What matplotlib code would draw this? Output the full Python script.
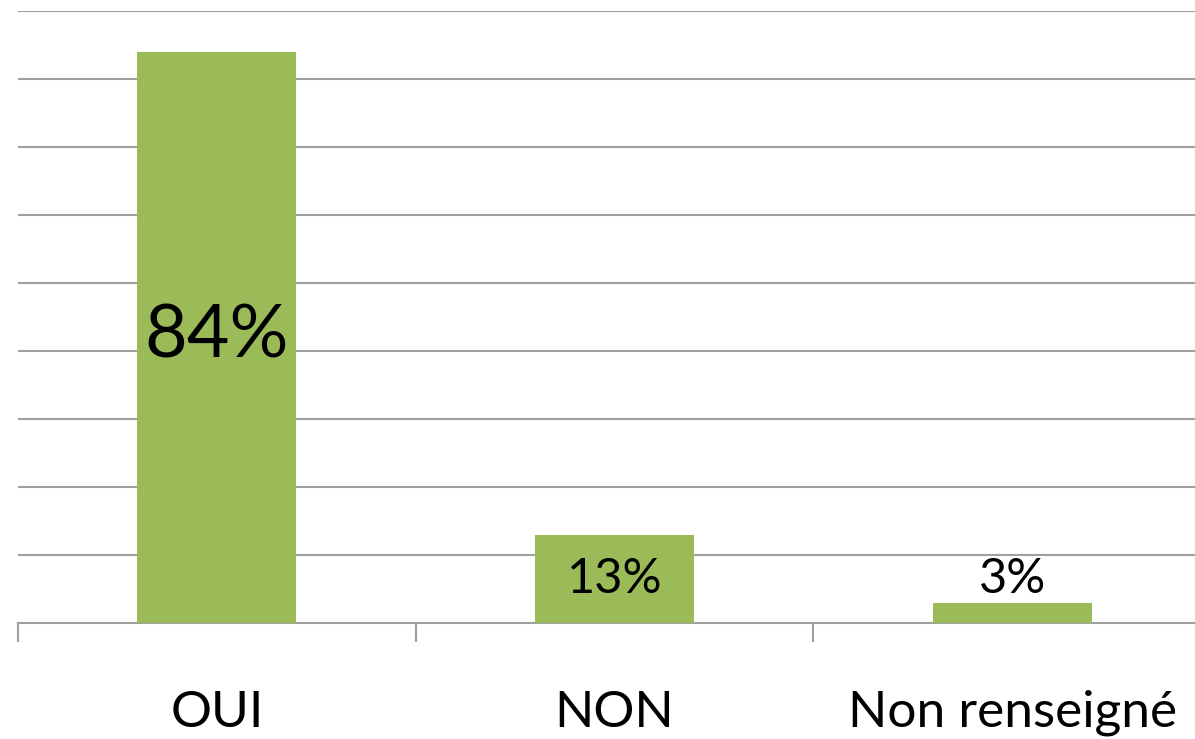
import matplotlib
matplotlib.use("Agg")
import matplotlib.pyplot as plt
import numpy as np

categories = ["OUI", "NON", "Non renseigné"]
values = [84, 13, 3]
value_labels = ["84%", "13%", "3%"]

BAR_COLOR = "#9BBB59"
GRID_COLOR = "#A0A0A0"

plt.rcParams["font.family"] = ["Lato", "DejaVu Sans"]

fig = plt.figure(figsize=(11.95, 7.39), dpi=100)
# axes runs a little past the right edge, as in the reference
ax = fig.add_axes([18 / 1195, 116 / 739, 1193 / 1195, 612 / 739])

x = np.arange(len(categories))
ax.bar(x, values, width=0.4, color=BAR_COLOR, zorder=3)

ax.set_xlim(-0.5, len(categories) - 0.5)
ax.set_ylim(0, 90)
ax.set_yticks(np.arange(10, 91, 10))
ax.yaxis.grid(True, color=GRID_COLOR, linewidth=1.5, zorder=0)
ax.tick_params(axis="y", length=0, labelleft=False)

for s in ["top", "right", "left"]:
    ax.spines[s].set_visible(False)
ax.spines["bottom"].set_color(GRID_COLOR)
ax.spines["bottom"].set_linewidth(1.5)

ax.set_xticks(x)
ax.set_xticklabels(categories, fontsize=37)
ax.tick_params(axis="x", which="major", length=0, pad=48)
ax.set_xticks(np.arange(-0.5, len(categories), 1), minor=True)
ax.tick_params(axis="x", which="minor", length=14, width=1.5, color=GRID_COLOR)

# value labels: inside the bar centre when there is room, above otherwise
sizes = [53, 35, 35]
for xi, v, lab, fs in zip(x, values, value_labels, sizes):
    if v > 8:
        ax.text(xi, v / 2, lab, ha="center", va="center", fontsize=fs, zorder=4)
    else:
        ax.text(xi, v + 0.3, lab, ha="center", va="bottom", fontsize=fs, zorder=4)

plt.savefig("out.png", dpi=100)
